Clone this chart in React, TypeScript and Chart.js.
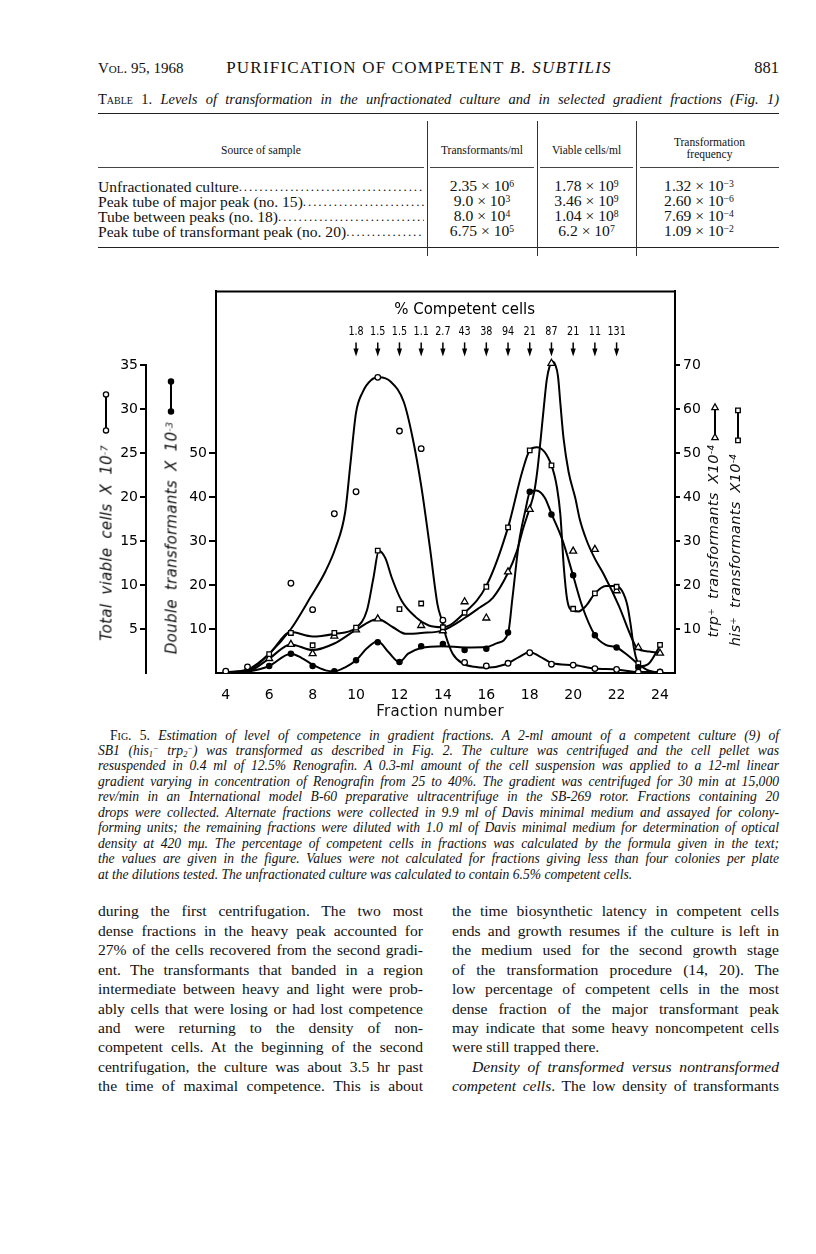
import React, { useEffect, useRef } from "react";
import { Chart, registerables } from "chart.js";

Chart.register(...registerables);

// ---------- chart data ----------
const fractionTicks = [4, 6, 8, 10, 12, 14, 16, 18, 20, 22, 24];
const viableTicks = [5, 10, 15, 20, 25, 30, 35];
const doubleTicks = [10, 20, 30, 40, 50];
const singleTicks = [10, 20, 30, 40, 50, 60, 70];

const competentFractions = [10, 11, 12, 13, 14, 15, 16, 17, 18, 19, 20, 21, 22];
const competentPercent = ["1.8", "1.5", "1.5", "1.1", "2.7", "43", "38", "94", "21", "87", "21", "11", "131"];

// Total viable cells x 10^-7 (open circles)
const viableFractions = [4, 5, 7, 8, 9, 10, 11, 12, 13, 14, 15, 16, 17, 18, 19, 20, 21, 22, 23, 24];
const viableValues = [0.2, 0.7, 10.2, 7.2, 18.1, 20.6, 33.6, 27.5, 25.5, 6.0, 1.2, 0.8, 1.1, 2.3, 1.0, 0.9, 0.5, 0.4, 0.1, 0.1];
const viableCurveFractions = [4, 5, 6, 7, 7.9, 8.6, 9.05, 9.5, 9.75, 10, 10.3, 10.7, 11.06, 11.6, 12.2, 12.6, 13.0, 13.4, 13.75, 13.95, 14.15, 14.45, 14.9, 15.45, 16, 16.9, 17.5, 18, 18.45, 19.05, 20, 21, 22, 23, 24];
const viableCurveValues = [0.1, 0.4, 2.2, 5.0, 8.6, 11.6, 14.2, 18.3, 24.0, 29.6, 31.9, 33.3, 33.6, 33.1, 30.8, 26.8, 21.3, 14.3, 7.8, 6.0, 4.1, 2.2, 1.1, 0.7, 0.6, 1.0, 1.8, 2.4, 1.9, 1.1, 0.9, 0.5, 0.4, 0.1, 0.1];

// Double transformants x 10^-3 (filled dots)
const doubleFractions = [4, 5, 6, 7, 8, 9, 10, 11, 12, 13, 14, 15, 16, 17, 18, 19, 20, 21, 22, 23, 24];
const doubleValues = [0.3, 0.5, 1.6, 4.4, 1.6, 0.4, 2.9, 7.0, 2.5, 6.1, 6.6, 5.2, 5.5, 9.2, 41.2, 36.0, 22.2, 8.6, 5.8, 1.3, 0.3];
const doubleCurveFractions = [4, 5, 6, 7, 7.5, 8, 8.6, 9, 9.5, 10, 10.5, 11, 11.5, 12, 12.4, 13, 14, 15, 16, 16.5, 17, 17.2, 17.5, 17.8, 18, 18.3, 18.7, 19, 19.5, 20, 20.4, 21, 21.5, 22, 22.5, 23, 23.5, 24];
const doubleCurveValues = [0, 0.3, 1.6, 4.4, 3.4, 1.9, 0.6, 0.4, 1.3, 2.9, 5.6, 7.2, 4.7, 2.5, 4.4, 5.7, 6.1, 5.8, 5.9, 6.8, 9.0, 16.9, 29.6, 37.0, 41.0, 41.5, 39.8, 36.2, 30.3, 22.1, 15.4, 8.6, 6.4, 5.8, 4.1, 2.0, 0.5, 0];

// his+ transformants x 10^-4 (open squares)
const hisFractions = [6, 7, 8, 9, 10, 11, 12, 13, 14, 15, 16, 17, 18, 19, 20, 21, 22, 23, 24];
const hisValues = [4.3, 9.1, 6.3, 9.1, 10.3, 27.8, 14.5, 15.8, 10.4, 13.7, 19.6, 33.1, 50.6, 47.2, 14.6, 18.1, 19.6, 2.2, 6.4];
const hisCurveFractions = [4, 5, 6, 7, 8, 9, 10, 10.5, 10.8, 11.05, 11.35, 11.65, 12.1, 12.75, 13.35, 14, 15, 16, 17, 17.65, 18, 18.33, 19, 19.26, 19.41, 19.57, 19.72, 19.95, 20.25, 20.6, 21, 21.5, 21.95, 22.25, 22.5, 22.65, 22.8, 22.95, 23.1, 23.5, 24];
const hisCurveValues = [0, 0.5, 4.3, 9.3, 8.3, 8.9, 10.3, 14.2, 21.6, 27.8, 26.1, 21.6, 16.4, 12.7, 10.8, 10.4, 13.7, 19.8, 33.1, 45.7, 50.6, 51.3, 47.2, 42.0, 36.0, 24.0, 16.8, 14.2, 14.0, 15.3, 18.1, 19.8, 19.8, 18.7, 15.3, 10.9, 5.6, 2.6, 1.5, 2.2, 6.2];

// trp+ transformants x 10^-4 (open triangles)
const trpFractions = [6, 7, 8, 9, 10, 11, 13, 14, 15, 16, 17, 18, 19, 20, 21, 22, 23, 24];
const trpValues = [3.3, 6.5, 4.4, 8.4, 9.8, 12.3, 10.8, 9.6, 16.2, 12.5, 23.0, 37.2, 70.4, 27.7, 28.1, 18.7, 5.8, 4.5];
const trpCurveFractions = [4, 5, 6, 7, 8, 9, 10, 11, 11.7, 12.3, 13, 14, 15, 15.7, 16.3, 17, 17.4, 17.7, 18, 18.2, 18.35, 18.5, 18.65, 18.78, 18.92, 19.05, 19.18, 19.3, 19.42, 19.56, 19.79, 20.1, 20.3, 20.63, 21.0, 21.4, 22.1, 22.7, 22.95, 23.5, 24];
const trpCurveValues = [0, 0.3, 3.3, 6.5, 5.2, 6.7, 9.8, 12.3, 10.4, 8.9, 9.1, 9.7, 12.5, 14.9, 17.1, 22.8, 27.6, 32.9, 37.5, 41.0, 46.0, 53.0, 60.5, 66.5, 69.8, 70.8, 70.0, 67.5, 60.7, 53.2, 45.7, 39.7, 35.0, 30.0, 26.0, 22.5, 15.3, 7.9, 5.6, 4.9, 4.5];

// ---------- table data ----------
const tableSources = [
  "Unfractionated culture",
  "Peak tube of major peak (no. 15)",
  "Tube between peaks (no. 18)",
  "Peak tube of transformant peak (no. 20)",
];
const tableTransformants = [["2.35", "6"], ["9.0", "3"], ["8.0", "4"], ["6.75", "5"]];
const tableViable = [["1.78", "9"], ["3.46", "9"], ["1.04", "8"], ["6.2", "7"]];
const tableFrequency = [["1.32", "-3"], ["2.60", "-6"], ["7.69", "-4"], ["1.09", "-2"]];

const AREA = { left: 176, right: 635, top: 7, bottom: 393 };
const CANVAS = { left: 40, top: 280, width: 740, height: 440 };

const chartFont = { family: "DejaVu Sans", size: 14 };

const decorPlugin = {
  id: "figureDecor",
  afterDraw(chart: any) {
    const { ctx, chartArea: a, scales } = chart;
    const xs = scales.x;
    const yv = scales.yViable;
    ctx.save();
    ctx.strokeStyle = "#000";
    ctx.fillStyle = "#000";
    ctx.lineWidth = 2;
    // top edge of frame
    ctx.beginPath();
    ctx.moveTo(a.left - 1, a.top);
    ctx.lineTo(a.right + 1, a.top);
    ctx.stroke();
    // outer left axis line (total viable cells), from 35 down to baseline
    ctx.beginPath();
    ctx.moveTo(yv.right - 1, yv.getPixelForValue(35) - 1);
    ctx.lineTo(yv.right - 1, a.bottom + 1);
    ctx.stroke();

    // % competent cells annotation
    ctx.textAlign = "center";
    ctx.textBaseline = "middle";
    ctx.font = '15px "DejaVu Sans"';
    ctx.fillText("% Competent cells", xs.getPixelForValue(15), a.top + 19);
    ctx.font = '13px "DejaVu Sans"';
    competentFractions.forEach((f, i) => {
      const px = xs.getPixelForValue(f);
      ctx.save();
      ctx.translate(px, a.top + 40);
      ctx.scale(0.74, 1);
      ctx.fillText(competentPercent[i], 0, 0);
      ctx.restore();
      ctx.lineWidth = 1.5;
      ctx.beginPath();
      ctx.moveTo(px, a.top + 51);
      ctx.lineTo(px, a.top + 60);
      ctx.stroke();
      ctx.beginPath();
      ctx.moveTo(px - 2.6, a.top + 57);
      ctx.lineTo(px + 2.6, a.top + 57);
      ctx.lineTo(px, a.top + 65);
      ctx.closePath();
      ctx.fill();
    });

    // legend glyphs beside the axis titles
    const glyph = (x: number, y0: number, y1: number, kind: string) => {
      ctx.lineWidth = 2;
      ctx.beginPath();
      ctx.moveTo(x, y0);
      ctx.lineTo(x, y1);
      ctx.stroke();
      [y0, y1].forEach((y) => {
        ctx.lineWidth = 1.3;
        ctx.beginPath();
        if (kind === "circle" || kind === "dot") {
          ctx.arc(x, y, 2.6, 0, Math.PI * 2);
        } else if (kind === "tri") {
          ctx.moveTo(x, y - 3.6);
          ctx.lineTo(x + 3.2, y + 2.2);
          ctx.lineTo(x - 3.2, y + 2.2);
          ctx.closePath();
        } else {
          ctx.rect(x - 2.3, y - 2.3, 4.6, 4.6);
        }
        ctx.fillStyle = kind === "dot" ? "#000" : "#fff";
        ctx.fill();
        ctx.stroke();
      });
      ctx.fillStyle = "#000";
    };
    glyph(a.left - 110, a.top + 103, a.top + 139, "circle");
    glyph(a.left - 45, a.top + 90, a.top + 120, "dot");
    glyph(a.right + 40, a.top + 116, a.top + 146, "tri");
    glyph(a.right + 63, a.top + 119, a.top + 149, "square");
    ctx.restore();
  },
};

function FigureChart() {
  const ref = useRef<HTMLCanvasElement>(null);
  useEffect(() => {
    const canvas = ref.current;
    if (!canvas) return;
    const pts = (xs: number[], ys: number[]) => xs.map((x, i) => ({ x, y: ys[i] }));
    const marker = {
      showLine: false,
      borderColor: "#000",
      pointBorderColor: "#000",
      pointBorderWidth: 1.3,
      pointBackgroundColor: "#fff",
      order: 0,
    };
    const curve = {
      showLine: true,
      pointRadius: 0,
      pointHoverRadius: 0,
      borderColor: "#000",
      borderWidth: 2,
      cubicInterpolationMode: "monotone",
      fill: false,
      order: 1,
    };
    const yBase = (ticks: number[]) => ({
      type: "linear",
      min: 0,
      afterBuildTicks: (s: any) => {
        s.ticks = ticks.map((v) => ({ value: v }));
      },
      ticks: { color: "#000", font: chartFont, autoSkip: false },
    });
    const chart = new Chart(canvas, {
      type: "scatter",
      data: {
        datasets: [
          { ...marker, data: pts(viableFractions, viableValues), yAxisID: "yViable", pointStyle: "circle", pointRadius: 2.8 },
          { ...marker, data: pts(doubleFractions, doubleValues), yAxisID: "yDouble", pointStyle: "circle", pointRadius: 2.6, pointBackgroundColor: "#000" },
          { ...marker, data: pts(hisFractions, hisValues), yAxisID: "ySingle", pointStyle: "rect", pointRadius: 3.2 },
          { ...marker, data: pts(trpFractions, trpValues), yAxisID: "ySingle", pointStyle: "triangle", pointRadius: 4 },
          { ...curve, data: pts(viableCurveFractions, viableCurveValues), yAxisID: "yViable" },
          { ...curve, data: pts(doubleCurveFractions, doubleCurveValues), yAxisID: "yDouble" },
          { ...curve, data: pts(hisCurveFractions, hisCurveValues), yAxisID: "ySingle" },
          { ...curve, data: pts(trpCurveFractions, trpCurveValues), yAxisID: "ySingle" },
        ] as any,
      },
      options: {
        responsive: false,
        maintainAspectRatio: false,
        animation: false,
        events: [],
        layout: { padding: { left: 0, right: 60, top: AREA.top, bottom: 10 } },
        plugins: { legend: { display: false }, tooltip: { enabled: false } },
        scales: {
          x: {
            type: "linear",
            position: "bottom",
            min: 3.55,
            max: 24.69,
            afterBuildTicks: (s: any) => {
              s.ticks = fractionTicks.map((v) => ({ value: v }));
            },
            afterFit: (s: any) => {
              s.height = 37;
            },
            grid: { display: false },
            border: { display: true, color: "#000", width: 2 },
            ticks: { color: "#000", font: chartFont, padding: 6, maxRotation: 0, autoSkip: false },
          },
          yViable: {
            ...yBase(viableTicks),
            position: "left",
            weight: 1,
            max: 43.37,
            afterFit: (s: any) => {
              s.width = 107;
            },
            grid: { display: true, drawOnChartArea: false, drawTicks: true, tickLength: 7, color: "#000", lineWidth: 2 },
            border: { display: false },
            ticks: { color: "#000", font: chartFont, padding: 2, autoSkip: false },
          },
          yDouble: {
            ...yBase(doubleTicks),
            position: "left",
            weight: 0,
            max: 86.74,
            afterFit: (s: any) => {
              s.width = 69;
            },
            grid: { display: true, drawOnChartArea: false, drawTicks: true, tickLength: 7, color: "#000", lineWidth: 2 },
            border: { display: true, color: "#000", width: 2 },
            ticks: { color: "#000", font: chartFont, padding: 2, autoSkip: false },
          },
          ySingle: {
            ...yBase(singleTicks),
            position: "right",
            max: 86.74,
            afterFit: (s: any) => {
              s.width = 45;
            },
            grid: { display: true, drawOnChartArea: false, drawTicks: true, tickLength: 5, color: "#000", lineWidth: 2 },
            border: { display: true, color: "#000", width: 2 },
            ticks: { color: "#000", font: chartFont, padding: 3, autoSkip: false },
          },
        } as any,
      },
      plugins: [decorPlugin],
    });
    return () => chart.destroy();
  }, []);
  return (
    <canvas
      ref={ref}
      width={CANVAS.width}
      height={CANVAS.height}
      style={{ position: "absolute", left: CANVAS.left, top: CANVAS.top, width: CANVAS.width, height: CANVAS.height }}
    />
  );
}

// ---------- page text helpers ----------
type LineProps = {
  x: number;
  y: number;
  w?: number;
  size: number;
  italic?: boolean;
  justify?: boolean;
  align?: "left" | "center" | "right";
  children: React.ReactNode;
  style?: React.CSSProperties;
};

function Line({ x, y, w, size, italic, justify, align, children, style }: LineProps) {
  return (
    <div
      style={{
        position: "absolute",
        left: x,
        top: y - size * 0.62,
        width: w,
        fontSize: size,
        lineHeight: `${size}px`,
        fontStyle: italic ? "italic" : "normal",
        whiteSpace: "nowrap",
        textAlign: justify ? "justify" : align || "left",
        textAlignLast: justify ? "justify" : align || "left",
        ...style,
      }}
    >
      {children}
    </div>
  );
}

const Sup = ({ children }: { children: React.ReactNode }) => (
  <span style={{ fontSize: "0.62em", verticalAlign: "0.45em", lineHeight: 0 }}>{children}</span>
);
const Sub = ({ children }: { children: React.ReactNode }) => (
  <span style={{ fontSize: "0.62em", verticalAlign: "-0.2em", lineHeight: 0 }}>{children}</span>
);

function Rotated({ x, y, size, children }: { x: number; y: number; size: number; children: React.ReactNode }) {
  return (
    <div
      style={{
        position: "absolute",
        left: x,
        top: y,
        transform: "translate(-50%, -50%) rotate(-90deg)",
        whiteSpace: "nowrap",
        fontFamily: '"DejaVu Sans", sans-serif',
        fontStyle: "italic",
        fontSize: size,
        lineHeight: `${size + 2}px`,
        wordSpacing: 4,
        letterSpacing: 0.3,
      }}
    >
      {children}
    </div>
  );
}

const captionLines: React.ReactNode[] = [
  <>
    <span style={{ fontStyle: "normal", fontVariant: "small-caps" }}>Fig. 5.</span> Estimation of level of competence in gradient fractions. A 2-ml amount of a competent culture (9) of
  </>,
  <>
    SB1 (his<Sub>1</Sub>
    <Sup>−</Sup> trp<Sub>2</Sub>
    <Sup>−</Sup>) was transformed as described in Fig. 2. The culture was centrifuged and the cell pellet was
  </>,
  <>resuspended in 0.4 ml of 12.5% Renografin. A 0.3-ml amount of the cell suspension was applied to a 12-ml linear</>,
  <>gradient varying in concentration of Renografin from 25 to 40%. The gradient was centrifuged for 30 min at 15,000</>,
  <>rev/min in an International model B-60 preparative ultracentrifuge in the SB-269 rotor. Fractions containing 20</>,
  <>drops were collected. Alternate fractions were collected in 9.9 ml of Davis minimal medium and assayed for colony-</>,
  <>forming units; the remaining fractions were diluted with 1.0 ml of Davis minimal medium for determination of optical</>,
  <>density at 420 mμ. The percentage of competent cells in fractions was calculated by the formula given in the text;</>,
  <>the values are given in the figure. Values were not calculated for fractions giving less than four colonies per plate</>,
  <>at the dilutions tested. The unfractionated culture was calculated to contain 6.5% competent cells.</>,
];

const leftColumn = [
  "during the first centrifugation. The two most",
  "dense fractions in the heavy peak accounted for",
  "27% of the cells recovered from the second gradi-",
  "ent. The transformants that banded in a region",
  "intermediate between heavy and light were prob-",
  "ably cells that were losing or had lost competence",
  "and were returning to the density of non-",
  "competent cells. At the beginning of the second",
  "centrifugation, the culture was about 3.5 hr past",
  "the time of maximal competence. This is about",
];

const rightColumn: React.ReactNode[] = [
  "the time biosynthetic latency in competent cells",
  "ends and growth resumes if the culture is left in",
  "the medium used for the second growth stage",
  "of the transformation procedure (14, 20). The",
  "low percentage of competent cells in the most",
  "dense fraction of the major transformant peak",
  "may indicate that some heavy noncompetent cells",
  "were still trapped there.",
  <i>Density of transformed versus nontransformed</i>,
  <>
    <i>competent cells</i>. The low density of transformants
  </>,
];

const Sci = ({ m, e }: { m: string; e: string }) => (
  <>
    {m} × 10<Sup>{e.replace("-", "−")}</Sup>
  </>
);

export default function App() {
  const rowY = [188, 203, 218, 233];
  const capY0 = 737;
  const capStep = 15.45;
  const bodyY0 = 913;
  const bodyStep = 19.45;
  return (
    <div
      style={{
        position: "absolute",
        left: 0,
        top: 0,
        width: 816,
        height: 1254,
        background: "#fff",
        color: "#111",
        fontFamily: '"Liberation Serif", "Times New Roman", serif',
        overflow: "hidden",
      }}
    >
      {/* running head */}
      <Line x={98} y={70} size={15} style={{ fontVariant: "small-caps" }}>
        Vol. 95, 1968
      </Line>
      <Line x={200} y={70} w={438} size={17} align="center" style={{ letterSpacing: 1.2 }}>
        PURIFICATION OF COMPETENT <i>B. SUBTILIS</i>
      </Line>
      <Line x={700} y={70} w={79} size={16.5} align="right">
        881
      </Line>

      {/* table */}
      <Line x={98} y={101} w={681} size={14.5} justify>
        <span style={{ fontVariant: "small-caps" }}>Table 1.</span>{" "}
        <i>Levels of transformation in the unfractionated culture and in selected gradient fractions (Fig. 1)</i>
      </Line>
      <div style={{ position: "absolute", left: 98, top: 113, width: 681, height: 0, borderTop: "1.6px solid #222" }} />
      <div style={{ position: "absolute", left: 98, top: 247, width: 681, height: 0, borderTop: "1.6px solid #222" }} />
      {[427, 537, 636].map((x) => (
        <div key={x} style={{ position: "absolute", left: x, top: 121, width: 0, height: 135, borderLeft: "1px solid #333" }} />
      ))}
      {[
        [98, 326],
        [430, 104],
        [540, 93],
        [640, 139],
      ].map(([x, w]) => (
        <div key={x} style={{ position: "absolute", left: x, top: 167, width: w, height: 0, borderTop: "1px solid #444" }} />
      ))}
      <Line x={98} y={152} w={326} size={11.5} align="center">
        Source of sample
      </Line>
      <Line x={430} y={152} w={104} size={11.5} align="center">
        Transformants/ml
      </Line>
      <Line x={540} y={152} w={93} size={11.5} align="center">
        Viable cells/ml
      </Line>
      <Line x={640} y={144} w={139} size={11.5} align="center">
        Transformation
      </Line>
      <Line x={640} y={156} w={139} size={11.5} align="center">
        frequency
      </Line>
      {tableSources.map((s, i) => (
        <div
          key={s}
          style={{
            position: "absolute",
            left: 98,
            top: rowY[i] - 9.5,
            width: 326,
            fontSize: 15.6,
            lineHeight: "15.6px",
            display: "flex",
            whiteSpace: "nowrap",
          }}
        >
          <span>{s}</span>
          <span style={{ flex: 1, overflow: "hidden", letterSpacing: 1.9, fontSize: 13 }}>{".".repeat(160)}</span>
        </div>
      ))}
      {tableTransformants.map(([m, e], i) => (
        <Line key={"t" + i} x={430} y={rowY[i]} w={104} size={15.6} align="center">
          <Sci m={m} e={e} />
        </Line>
      ))}
      {tableViable.map(([m, e], i) => (
        <Line key={"v" + i} x={540} y={rowY[i]} w={93} size={15.6} align="center">
          <Sci m={m} e={e} />
        </Line>
      ))}
      {tableFrequency.map(([m, e], i) => (
        <Line key={"f" + i} x={640} y={rowY[i]} w={118} size={15.6} align="center">
          <Sci m={m} e={e} />
        </Line>
      ))}

      {/* figure */}
      <FigureChart />
      <Rotated x={107} y={543} size={15}>
        Total viable cells X 10<Sup>-7</Sup>
      </Rotated>
      <Rotated x={172} y={538} size={15}>
        Double transformants X 10<Sup>-3</Sup>
      </Rotated>
      <Rotated x={713} y={541} size={14.5}>
        trp<Sup>+</Sup> transformants X10<Sup>-4</Sup>
      </Rotated>
      <Rotated x={735} y={550} size={14.5}>
        his<Sup>+</Sup> transformants X10<Sup>-4</Sup>
      </Rotated>
      <div
        style={{
          position: "absolute",
          left: 340,
          top: 702,
          width: 200,
          textAlign: "center",
          fontFamily: '"DejaVu Sans", sans-serif',
          fontSize: 15,
          lineHeight: "18px",
          letterSpacing: 0.3,
        }}
      >
        Fraction number
      </div>

      {/* caption */}
      {captionLines.map((c, i) => (
        <Line
          key={"c" + i}
          x={i === 0 ? 110 : 98}
          y={capY0 + i * capStep}
          w={i === 0 ? 669 : 681}
          size={13.6}
          italic
          justify={i < captionLines.length - 1}
        >
          {c}
        </Line>
      ))}

      {/* body text */}
      {leftColumn.map((t, i) => (
        <Line key={"l" + i} x={98} y={bodyY0 + i * bodyStep} w={325} size={15.6} justify>
          {t}
        </Line>
      ))}
      {rightColumn.map((t, i) => (
        <Line
          key={"r" + i}
          x={i === 8 ? 472 : 452}
          y={bodyY0 + i * bodyStep}
          w={i === 8 ? 307 : 327}
          size={15.6}
          justify={i !== 7}
        >
          {t}
        </Line>
      ))}
    </div>
  );
}
